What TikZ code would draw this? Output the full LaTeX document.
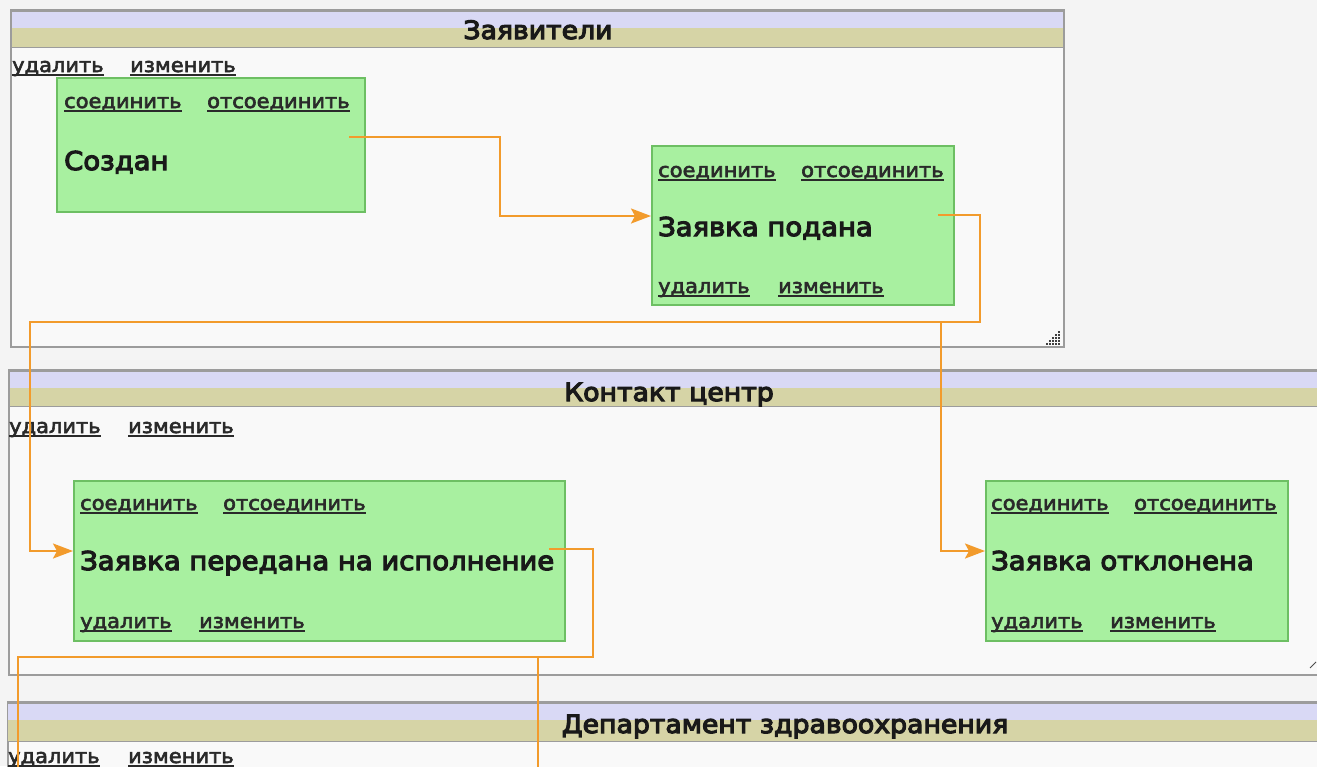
\documentclass[tikz,border=0pt]{standalone}
\usepackage{fontspec}
\newfontfamily\ui[FakeStretch=1.06,FakeBold=3]{DejaVu Sans}
\newfontfamily\uibig[FakeStretch=1.06,FakeBold=4.5]{DejaVu Sans}
\usetikzlibrary{arrows.meta}
\definecolor{pagebg}{HTML}{F4F4F4}
\definecolor{panelbg}{HTML}{F9F9F9}
\definecolor{panelline}{HTML}{9C9C9C}
\definecolor{lav}{HTML}{D9D9F5}
\definecolor{khaki}{HTML}{D6D4A6}
\definecolor{gfill}{HTML}{A8F0A0}
\definecolor{gline}{HTML}{6DBF63}
\definecolor{conn}{HTML}{F29B2C}
\definecolor{linktxt}{HTML}{2A2A2A}
\newcommand\lnk[1]{\setbox0\hbox{#1}\rlap{\rule[-3.5pt]{\wd0}{1.6pt}}\box0}
\tikzset{
  panel/.style={fill=panelbg, draw=panelline, line width=1.2pt},
  gbox/.style={fill=gfill, draw=gline, line width=1.5pt, anchor=north west, inner sep=0pt},
  linklbl/.style={anchor=base west, inner sep=0pt, text=linktxt, font=\ui\fontsize{19.8}{23}\selectfont},
  mainlbl/.style={anchor=base west, inner sep=0pt, text=black!90, font=\uibig\fontsize{25.9}{30}\selectfont},
  titlelbl/.style={anchor=base, inner sep=0pt, text=black!90, font=\uibig\fontsize{25.2}{30}\selectfont},
  connector/.style={draw=conn, line width=2.2pt},
  arrowed/.style={-{Stealth[length=20pt,width=15pt,inset=4pt]}},
}
\begin{document}
\begin{tikzpicture}[x=1pt,y=-1pt]
\useasboundingbox (0,0) rectangle (1317,766);
\clip (0,0) rectangle (1317,766);
\fill[pagebg] (0,0) rectangle (1317,766);

% ---------- panel 1
\filldraw[panel] (11,10) rectangle (1064,347);
\fill[lav] (11,12) rectangle (1064,28);
\fill[khaki] (11,28) rectangle (1064,47);
\draw[panelline, line width=2.4pt] (10,11) -- (1065,11);
\draw[panelline, line width=1.2pt] (11,47.5) -- (1064,47.5);
\draw[panelline, line width=1.2pt] (11,10) -- (11,347) (1064,10) -- (1064,347);
\node[titlelbl] (p1t) at (538,39) {Заявители};
\node[linklbl] (p1d) at (12,72) {\lnk{удалить}};
\node[linklbl] (p1e) at (130,72) {\lnk{изменить}};
\foreach \i in {0,...,4}{
  \foreach \j in {0,...,\i}{
    \fill[black!75] (1061-\i*3+\j*3-3,331+\i*3) rectangle ++(2.4,2.4);
  }
}

% ---------- panel 2
\filldraw[panel] (9,370) rectangle (1340,675);
\fill[lav] (9,372) rectangle (1340,388);
\fill[khaki] (9,388) rectangle (1340,406);
\draw[panelline, line width=2.4pt] (8,371) -- (1340,371);
\draw[panelline, line width=1.2pt] (9,406.5) -- (1340,406.5);
\draw[panelline, line width=1.2pt] (9,370) -- (9,675);
\node[titlelbl] (p2t) at (669,401) {Контакт центр};
\node[linklbl] (p2d) at (9,433) {\lnk{удалить}};
\node[linklbl] (p2e) at (128,433) {\lnk{изменить}};
\draw[black!70, line width=1pt] (1310,668) -- (1316,662);

% ---------- panel 3
\filldraw[panel] (8,702) rectangle (1570,800);
\fill[lav] (8,704) rectangle (1570,720);
\fill[khaki] (8,720) rectangle (1570,741);
\draw[panelline, line width=2.4pt] (7,703) -- (1570,703);
\draw[panelline, line width=1.2pt] (8,741.5) -- (1570,741.5);
\node[titlelbl] (p3t) at (785,733) {Департамент здравоохранения};
\node[linklbl] (p3d) at (8,763) {\lnk{удалить}};
\node[linklbl] (p3e) at (128,763) {\lnk{изменить}};

% ---------- boxes
\node[gbox, minimum width=308, minimum height=134] (b1) at (56,77) {};
\node[linklbl] (b1c) at (64,108) {\lnk{соединить}};
\node[linklbl] (b1o) at (207,108) {\lnk{отсоединить}};
\node[mainlbl] (b1m) at (64,170) {Создан};

\node[gbox, minimum width=302, minimum height=159] (b2) at (651,145) {};
\node[linklbl] (b2c) at (658,177) {\lnk{соединить}};
\node[linklbl] (b2o) at (801,177) {\lnk{отсоединить}};
\node[mainlbl] (b2m) at (658,236) {Заявка подана};
\node[linklbl] (b2d) at (658,293) {\lnk{удалить}};
\node[linklbl] (b2e) at (778,293) {\lnk{изменить}};

\node[gbox, minimum width=491, minimum height=160] (b3) at (73,480) {};
\node[linklbl] (b3c) at (80,510) {\lnk{соединить}};
\node[linklbl] (b3o) at (223,510) {\lnk{отсоединить}};
\node[mainlbl] (b3m) at (80,570) {Заявка передана на исполнение};
\node[linklbl] (b3d) at (80,628) {\lnk{удалить}};
\node[linklbl] (b3e) at (199,628) {\lnk{изменить}};

\node[gbox, minimum width=302, minimum height=160] (b4) at (985,480) {};
\node[linklbl] (b4c) at (991,510) {\lnk{соединить}};
\node[linklbl] (b4o) at (1134,510) {\lnk{отсоединить}};
\node[mainlbl] (b4m) at (991,570) {Заявка отклонена};
\node[linklbl] (b4d) at (991,628) {\lnk{удалить}};
\node[linklbl] (b4e) at (1110,628) {\lnk{изменить}};

% ---------- connector ports
\coordinate (s1) at (349,137);
\coordinate (t2) at (b2.west |- 0,216);
\coordinate (s2) at (938,215);
\coordinate (j2) at (941,322);
\coordinate (t3) at (b3.west |- 0,551);
\coordinate (t4) at (b4.west |- 0,551);
\coordinate (s3) at (549,549);
\coordinate (j3) at (538,657);
\coordinate (e1) at (18,770);
\coordinate (e2) at (538,770);

% ---------- connectors
\draw[connector, arrowed] (s1) -- (500,137) -- (500,216) -- (t2);
\draw[connector, arrowed] (s2) -- (980,215) -- (980,322) -- (30,322) -- (30,551) -- (t3);
\draw[connector, arrowed] (j2) -- (941,551) -- (t4);
\draw[connector] (s3) -- (593,549) -- (593,657) -- (18,657) -- (e1);
\draw[connector] (j3) -- (e2);
\end{tikzpicture}
\end{document}
